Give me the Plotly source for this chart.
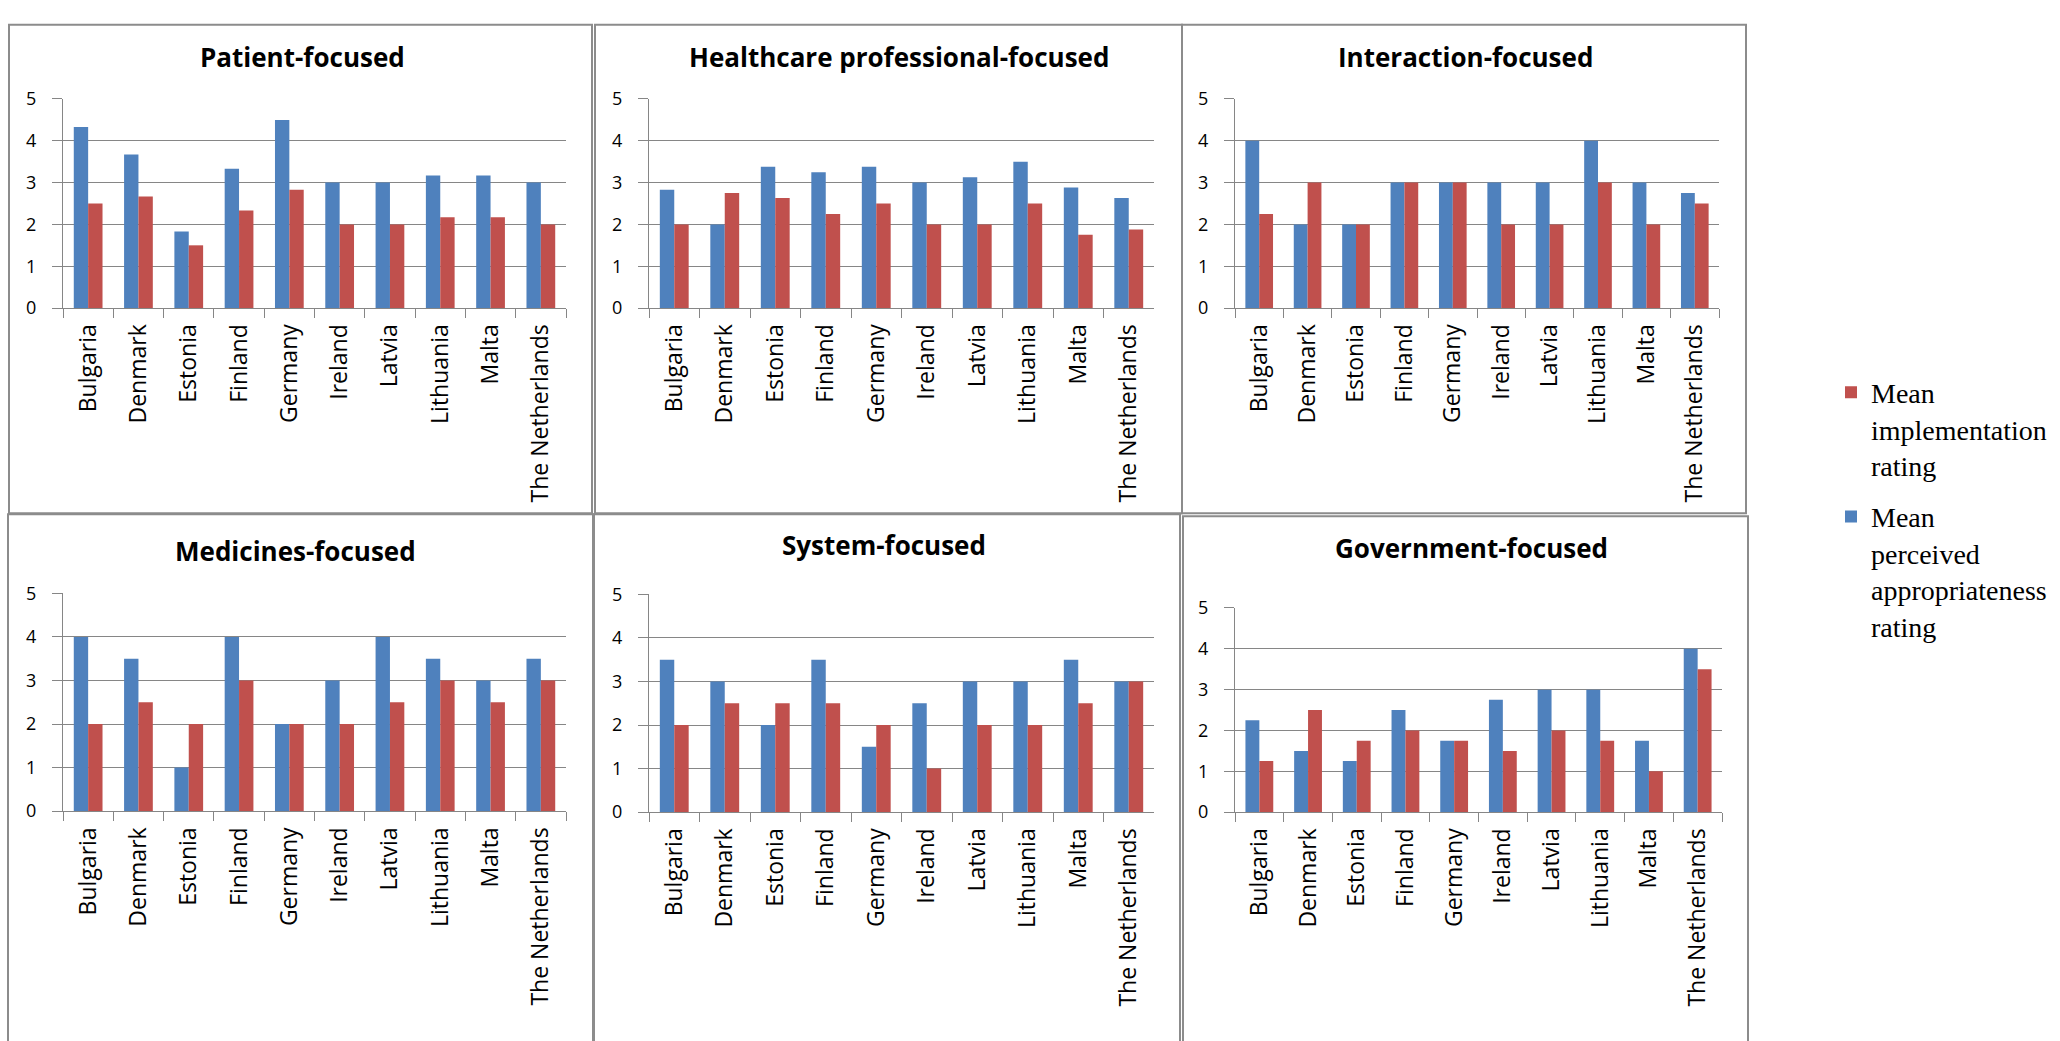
import plotly.graph_objects as go

# ---------------- data ----------------
countries = ["Bulgaria", "Denmark", "Estonia", "Finland", "Germany",
             "Ireland", "Latvia", "Lithuania", "Malta", "The Netherlands"]

panel_titles = ["Patient-focused", "Healthcare professional-focused", "Interaction-focused",
                "Medicines-focused", "System-focused", "Government-focused"]

patient_appr = [4.33, 3.67, 1.83, 3.33, 4.5, 3.0, 3.0, 3.17, 3.17, 3.0]
patient_impl = [2.5, 2.67, 1.5, 2.33, 2.83, 2.0, 2.0, 2.17, 2.17, 2.0]

hcp_appr = [2.83, 2.0, 3.38, 3.25, 3.38, 3.0, 3.13, 3.5, 2.88, 2.63]
hcp_impl = [2.0, 2.75, 2.63, 2.25, 2.5, 2.0, 2.0, 2.5, 1.75, 1.88]

inter_appr = [4.0, 2.0, 2.0, 3.0, 3.0, 3.0, 3.0, 4.0, 3.0, 2.75]
inter_impl = [2.25, 3.0, 2.0, 3.0, 3.0, 2.0, 2.0, 3.0, 2.0, 2.5]

med_appr = [4.0, 3.5, 1.0, 4.0, 2.0, 3.0, 4.0, 3.5, 3.0, 3.5]
med_impl = [2.0, 2.5, 2.0, 3.0, 2.0, 2.0, 2.5, 3.0, 2.5, 3.0]

sys_appr = [3.5, 3.0, 2.0, 3.5, 1.5, 2.5, 3.0, 3.0, 3.5, 3.0]
sys_impl = [2.0, 2.5, 2.5, 2.5, 2.0, 1.0, 2.0, 2.0, 2.5, 3.0]

gov_appr = [2.25, 1.5, 1.25, 2.5, 1.75, 2.75, 3.0, 3.0, 1.75, 4.0]
gov_impl = [1.25, 2.5, 1.75, 2.0, 1.75, 1.5, 2.0, 1.75, 1.0, 3.5]

appr_series = [patient_appr, hcp_appr, inter_appr, med_appr, sys_appr, gov_appr]
impl_series = [patient_impl, hcp_impl, inter_impl, med_impl, sys_impl, gov_impl]

y_ticks = [0, 1, 2, 3, 4, 5]

appr_name = "Mean<br>perceived<br>appropriateness<br>rating"
impl_name = "Mean<br>implementation<br>rating"

# ---------------- layout geometry (pixels) ----------------
W, H = 2060, 1041
BLUE = "#4F81BD"
RED = "#C0504D"
GRID = "#868686"
BORDER = "#8c8c8c"

# plot areas: (x0, x1, ytop, ybottom) in pixels
plot_px = [
    (63, 566, 88, 302),
    (649, 1154, 88, 302),
    (1235, 1719, 88, 302),
    (63, 566, 594, 817),
    (649, 1154, 595, 818),
    (1235, 1722, 609, 818),
]
# panel borders
border_px = [
    (9, 592, 12, 512),
    (595, 1182, 12, 512),
    (1182, 1746, 12, 512),
    (8, 593, 513, 1060),
    (594, 1180, 513, 1060),
    (1183, 1748, 515, 1060),
]
# title centres
title_px = [(302, 45), (899, 45), (1465, 45), (295, 551), (884, 545), (1471, 548)]


def px_x(v):
    return v / W


def px_y(v):
    return 1 - v / H


fig = go.Figure()
layout = {}
for i in range(6):
    n = i + 1
    xa = "x" if n == 1 else f"x{n}"
    ya = "y" if n == 1 else f"y{n}"
    fig.add_trace(go.Bar(
        x=countries, y=appr_series[i], name=appr_name, marker_color=BLUE,
        marker_line_width=0, xaxis=xa, yaxis=ya, legendgroup="appr",
        legendrank=2, showlegend=(i == 0), offsetgroup="a"))
    fig.add_trace(go.Bar(
        x=countries, y=impl_series[i], name=impl_name, marker_color=RED,
        marker_line_width=0, xaxis=xa, yaxis=ya, legendgroup="impl",
        legendrank=1, showlegend=(i == 0), offsetgroup="b"))

    x0, x1, yt, yb = plot_px[i]
    layout[f"xaxis{'' if n == 1 else n}"] = dict(
        domain=[px_x(x0), px_x(x1)], anchor=ya, type="category",
        categoryorder="array", categoryarray=countries,
        tickangle=-90, tickson="boundaries", ticks="outside", ticklen=9,
        tickcolor=GRID, showline=True, linecolor=GRID, linewidth=1,
        showgrid=False, tickfont=dict(family="Open Sans", size=23, color="#000"),
        ticklabelstandoff=6, fixedrange=True,
    )
    layout[f"yaxis{'' if n == 1 else n}"] = dict(
        domain=[px_y(yb), px_y(yt)], anchor=xa, range=[0, 5],
        tickvals=y_ticks, showgrid=True, gridcolor=GRID, gridwidth=1,
        showline=True, linecolor=GRID, linewidth=1, zeroline=False,
        ticks="outside", ticklen=10, tickcolor=GRID,
        tickfont=dict(family="Open Sans", size=18, color="#000"),
        ticklabelstandoff=12, fixedrange=True,
    )

shapes = []
for (bx0, bx1, by0, by1) in border_px:
    shapes.append(dict(type="rect", xref="paper", yref="paper",
                       x0=px_x(bx0), x1=px_x(bx1), y0=px_y(by1), y1=px_y(by0),
                       line=dict(color=BORDER, width=2), fillcolor="rgba(0,0,0,0)",
                       layer="below"))

annotations = []
for t, (cx, cy) in zip(panel_titles, title_px):
    annotations.append(dict(text=f"<b>{t}</b>", xref="paper", yref="paper",
                            x=px_x(cx), y=px_y(cy), xanchor="center", yanchor="middle",
                            showarrow=False,
                            font=dict(family="Open Sans", size=26, color="#000")))

fig.update_layout(
    width=W, height=H, margin=dict(l=0, r=0, t=0, b=0),
    paper_bgcolor="white", plot_bgcolor="white",
    barmode="group", bargap=0.4286, bargroupgap=0,
    shapes=shapes, annotations=annotations,
    showlegend=True,
    legend=dict(x=px_x(1831), y=px_y(363), xanchor="left", yanchor="top",
                traceorder="grouped", tracegroupgap=12, valign="top",
                font=dict(family="Liberation Serif", size=28, color="#000"),
                bgcolor="rgba(0,0,0,0)", borderwidth=0, itemwidth=30),
    **layout,
)

fig.write_html("out.html", config={"displayModeBar": False},
               post_script="document.body.style.margin='0';document.body.style.overflow='hidden';")
